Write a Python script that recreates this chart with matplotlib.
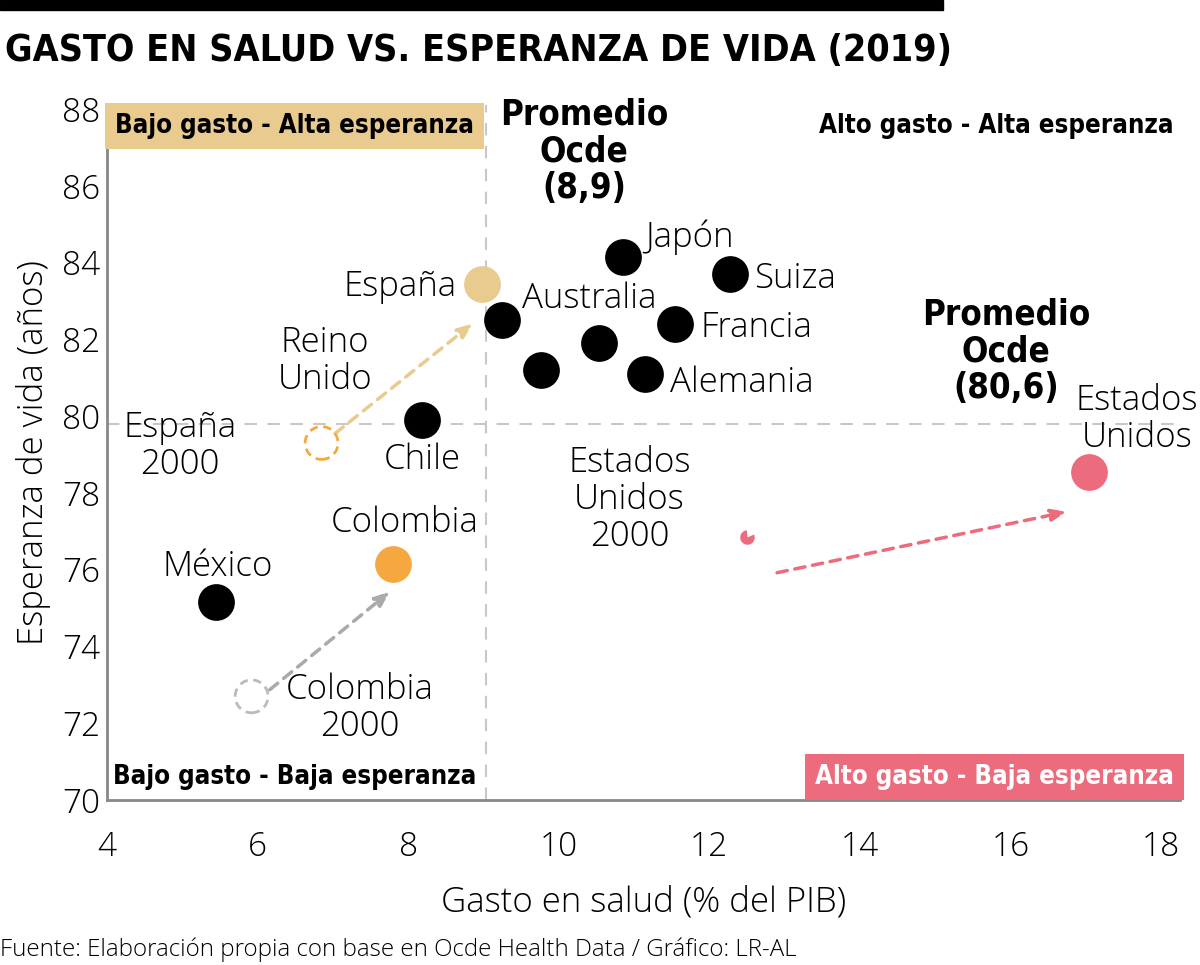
import matplotlib
matplotlib.use("Agg")
import matplotlib.pyplot as plt
from matplotlib import font_manager
from matplotlib.path import Path
import matplotlib.patches as mpatches

# data
paises = ["Japón", "Suiza", "Australia", "Francia", "", "", "Alemania", "Chile", "México"]
gasto = [10.85, 12.28, 9.25, 11.55, 10.53, 9.76, 11.14, 8.19, 5.45]
esperanza = [84.15, 83.7, 82.5, 82.4, 81.9, 81.2, 81.1, 79.9, 75.15]

# highlighted countries: 2019 and 2000
esp_2019 = (8.98, 83.45)
esp_2000 = (6.85, 79.3)
col_2019 = (7.80, 76.15)
col_2000 = (5.92, 72.7)
usa_2019 = (17.04, 78.55)
usa_2000 = (12.5, 76.85)

# averages as drawn in the picture
prom_gasto = 9.04
prom_esperanza = 79.8

C_ESP = "#E9CA8F"
C_COL = "#F5A840"
C_USA = "#EC6B7D"
C_GRAY = "#BBBBBB"

names = {f.name for f in font_manager.fontManager.ttflist}
LIGHT = "Open Sans" if "Open Sans" in names else "DejaVu Sans"
BOLD = "DejaVu Sans"

fig = plt.figure(figsize=(12, 9.65), dpi=100)
ax = fig.add_axes([0.0892, 0.171, 0.894, 0.72])
ax.set_xlim(4, 18.25)
ax.set_ylim(70, 88.1)

for s in ["top", "right"]:
    ax.spines[s].set_visible(False)
for s in ["left", "bottom"]:
    ax.spines[s].set_color("#888888")
    ax.spines[s].set_linewidth(2)
ax.tick_params(length=0, labelsize=24)
ax.tick_params(axis="x", pad=22)
ax.tick_params(axis="y", pad=5)
ax.set_xticks(range(4, 19, 2))
ax.set_yticks(range(70, 89, 2))
for lab in ax.get_xticklabels() + ax.get_yticklabels():
    lab.set_family(LIGHT)
    lab.set_weight("light")

ax.set_xlabel("Gasto en salud (% del PIB)", fontsize=25, family=LIGHT, weight="light", labelpad=15)
ax.set_ylabel("Esperanza de vida (años)", fontsize=25, family=LIGHT, weight="light", labelpad=8)

# average lines
ax.axvline(prom_gasto, color="#C8C8C8", lw=1.5, ls=(0, (6, 5)), zorder=1)
ax.axhline(prom_esperanza, color="#C8C8C8", lw=1.5, ls=(0, (6, 5)), zorder=1)

# points
ax.scatter(gasto, esperanza, s=700, color="black", zorder=3, linewidths=0)
ax.scatter(*esp_2019, s=700, color=C_ESP, zorder=3, linewidths=0)
ax.scatter(*col_2019, s=700, color=C_COL, zorder=3, linewidths=0)
ax.scatter(*usa_2019, s=700, color=C_USA, zorder=3, linewidths=0)
ax.scatter(*usa_2000, s=110, color=C_USA, zorder=3, linewidths=0, marker=Path.wedge(95, 385))
ax.scatter(*esp_2000, s=560, facecolor="none", edgecolor=C_COL, linewidths=2,
           linestyle=(0, (3, 2)), zorder=3)
ax.scatter(*col_2000, s=560, facecolor="none", edgecolor=C_GRAY, linewidths=2,
           linestyle=(0, (3, 2)), zorder=3)

# arrows
def flecha(x0, y0, x1, y1, c):
    ax.annotate("", xy=(x1, y1), xytext=(x0, y0),
                arrowprops=dict(arrowstyle="-|>,head_length=0.9,head_width=0.35",
                                color=c, lw=2.5, ls=(0, (3, 2.2)), shrinkA=0, shrinkB=0),
                zorder=2)

flecha(7.03, 79.55, 8.86, 82.42, C_ESP)
flecha(6.16, 72.87, 7.76, 75.43, "#AAAAAA")
flecha(12.90, 75.92, 16.75, 77.51, C_USA)

# point labels
lab = dict(fontsize=25, family=LIGHT, weight="light", color="black", ha="center", va="center",
           linespacing=1.1)
ax.text(11.74, 84.66, "Japón", **lab)
ax.text(13.14, 83.59, "Suiza", **lab)
ax.text(10.40, 83.07, "Australia", **lab)
ax.text(12.63, 82.29, "Francia", **lab)
ax.text(12.43, 80.88, "Alemania", **lab)
ax.text(7.89, 83.38, "España", **lab)
ax.text(6.89, 81.43, "Reino\nUnido", **lab)
ax.text(8.19, 78.87, "Chile", **lab)
ax.text(4.97, 79.21, "España\n2000", **lab)
ax.text(5.47, 76.08, "México", **lab)
ax.text(7.95, 77.23, "Colombia", **lab)
ax.text(7.36, 72.40, "Colombia\n2000", **lab)
ax.text(10.94, 77.83, "Estados\nUnidos\n2000", **lab)
ax.text(17.68, 79.91, "Estados\nUnidos", **lab)

bold = dict(family=BOLD, weight="bold", stretch="condensed", color="black", ha="center",
            va="center")
ax.text(10.34, 86.9, "Promedio\nOcde\n(8,9)", fontsize=25, linespacing=1.12, **bold)
ax.text(15.94, 81.69, "Promedio\nOcde\n(80,6)", fontsize=25, linespacing=1.12, **bold)

ax.text(6.49, 87.56, "Bajo gasto - Alta esperanza", fontsize=18.5, **bold,
        bbox=dict(boxstyle="square,pad=0.4", fc=C_ESP, ec="none"))
ax.text(18.17, 87.56, "Alto gasto - Alta esperanza", fontsize=18.5, family=BOLD, weight="bold",
        stretch="condensed", color="black", ha="right", va="center")
ax.text(6.49, 70.6, "Bajo gasto - Baja esperanza", fontsize=18.5, **bold)
ax.text(18.17, 70.6, "Alto gasto - Baja esperanza", fontsize=18.5, family=BOLD, weight="bold",
        stretch="condensed", color="white", ha="right", va="center",
        bbox=dict(boxstyle="square,pad=0.4", fc=C_USA, ec="none"))

# header and footer
fig.patches.append(mpatches.Rectangle((0, 0.9896), 943 / 1200, 0.0104, transform=fig.transFigure,
                                      color="black"))
fig.text(0.004, 0.947, "GASTO EN SALUD VS. ESPERANZA DE VIDA (2019)", fontsize=27, family=BOLD,
         weight="bold", stretch="condensed", ha="left", va="center")
fig.text(0.0, 0.016, "Fuente: Elaboración propia con base en Ocde Health Data / Gráfico: LR-AL",
         fontsize=17.4, family=LIGHT, weight="light", ha="left", va="center")

fig.savefig("out.png", dpi=100)
